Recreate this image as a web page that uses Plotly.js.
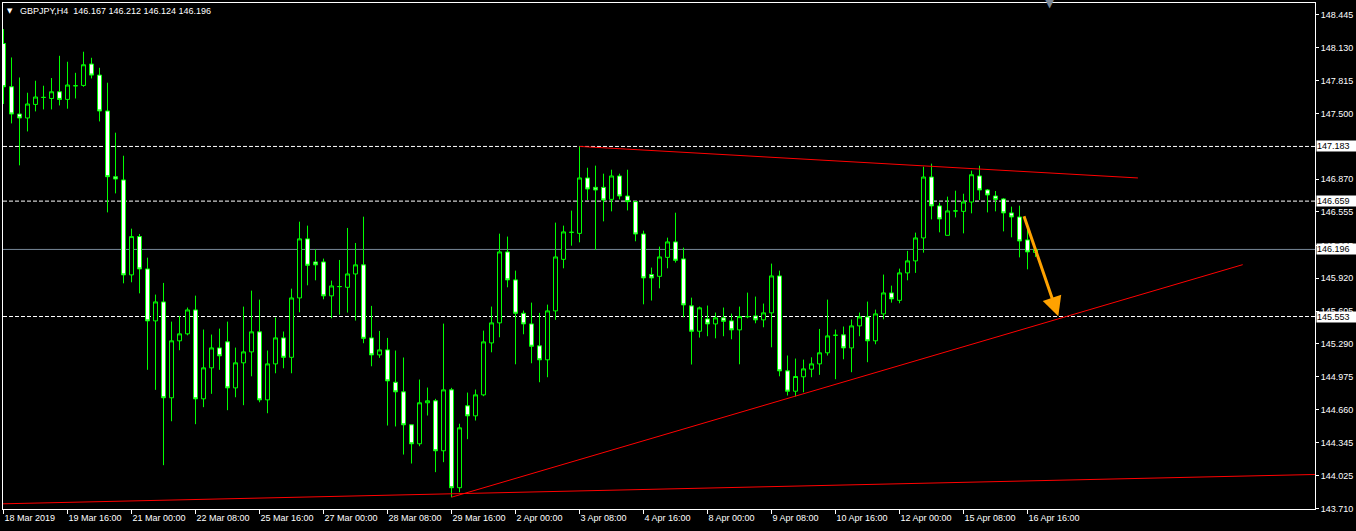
<!DOCTYPE html>
<html>
<head>
<meta charset="utf-8">
<script src="https://cdn.plot.ly/plotly-3.0.1.min.js"></script>
<style>
html,body{margin:0;padding:0;background:#000;}
#chart{width:1356px;height:531px;}
</style>
</head>
<body>
<div id="chart"></div>
<script>
// ---------- data ----------
const symbolName = 'GBPJPY,H4';

const openP = [
148.170,147.755,147.494,147.456,147.586,147.653,147.643,147.707,147.634,147.765,
147.768,147.973,147.867,147.523,146.893,146.862,145.952,146.319,146.009,145.511,
145.693,144.774,145.320,145.387,145.616,144.764,145.061,145.252,145.310,144.869,
145.109,145.214,145.406,144.754,145.099,145.348,145.162,145.731,146.297,146.076,
146.076,145.751,145.840,145.833,145.961,146.048,145.348,145.185,145.233,144.923,
144.831,144.515,144.333,144.726,144.745,144.266,144.850,143.912,144.697,144.601,
144.802,145.300,145.492,146.172,145.904,145.584,145.482,145.272,145.138,145.607,
146.101,146.360,146.350,146.881,146.791,146.791,146.676,146.900,146.708,146.654,
146.344,145.955,145.938,146.120,146.268,146.105,145.655,145.412,145.530,145.482,
145.540,145.511,145.425,145.552,145.559,145.521,145.588,145.942,145.032,144.837,
144.975,145.048,145.099,145.205,145.373,145.377,145.252,145.463,145.549,145.320,
145.578,145.779,145.708,145.971,146.086,146.306,146.890,146.613,146.331,146.565,
146.561,146.651,146.900,146.766,146.708,146.680,146.546,146.507,146.287,146.167];

const highP = [
148.308,148.036,147.844,147.698,147.813,147.765,147.839,148.052,147.995,147.889,
148.091,148.033,147.937,147.794,147.315,147.094,146.395,146.344,146.117,145.763,
145.875,145.504,145.559,145.639,145.753,145.428,145.380,145.437,145.504,145.255,
145.648,145.801,145.715,145.227,145.543,145.409,145.820,146.462,146.424,146.197,
146.108,145.897,146.095,146.402,146.258,146.510,145.655,145.415,145.348,145.227,
145.160,144.515,144.949,144.872,144.764,145.485,144.869,144.525,144.824,144.853,
145.418,145.648,146.347,146.319,145.993,145.610,145.686,145.588,145.667,146.453,
146.424,146.568,147.183,146.979,146.999,146.922,146.960,146.922,146.960,146.654,
146.376,146.022,146.223,146.309,146.548,146.213,145.734,145.648,145.658,145.591,
145.639,145.581,145.648,145.782,145.744,145.677,146.060,145.993,145.179,145.150,
145.140,145.162,145.434,145.715,145.428,145.457,145.524,145.591,145.696,145.619,
145.955,145.849,146.012,146.182,146.357,146.989,147.018,146.644,146.702,146.759,
146.730,146.951,146.999,146.775,146.756,146.689,146.606,146.616,146.402,146.212];

const lowP = [
147.590,147.404,147.002,147.327,147.519,147.538,147.538,147.576,147.545,147.643,
147.755,147.835,147.423,146.551,146.733,145.871,145.881,145.775,145.042,144.850,
144.128,144.549,145.230,145.373,144.521,144.684,144.812,145.042,144.655,144.779,
144.703,144.980,144.731,144.626,145.009,145.057,145.009,145.593,145.852,145.900,
145.718,145.536,145.571,145.591,145.514,145.297,145.076,145.157,144.508,144.499,
144.230,144.144,144.310,144.604,144.061,144.157,143.821,143.869,144.377,144.556,
144.789,145.210,145.354,145.833,145.095,145.383,145.105,144.923,144.971,145.521,
146.015,146.232,146.264,146.670,146.191,146.465,146.561,146.676,146.570,146.274,
145.670,145.706,145.823,146.015,146.070,145.546,145.093,145.351,145.364,145.344,
145.364,145.335,145.095,145.536,145.488,145.450,145.258,144.980,144.796,144.786,
144.827,144.971,144.994,145.179,144.952,145.143,145.019,145.364,145.115,145.287,
145.526,145.686,145.680,145.900,145.971,146.165,146.484,146.360,146.331,146.503,
146.350,146.542,146.670,146.551,146.561,146.369,146.312,146.120,146.005,146.124];

const closeP = [
147.755,147.494,147.456,147.590,147.657,147.653,147.707,147.634,147.772,147.765,
147.966,147.867,147.523,146.893,146.871,145.952,146.319,146.009,145.511,145.693,
144.774,145.320,145.387,145.616,144.764,145.061,145.252,145.176,144.869,145.109,
145.214,145.406,144.754,145.099,145.348,145.162,145.731,146.297,146.044,146.048,
145.751,145.846,145.840,145.961,146.048,145.344,145.185,145.233,144.936,144.831,
144.515,144.333,144.726,144.745,144.266,144.850,143.912,144.486,144.601,144.802,
145.310,145.492,146.172,145.904,145.584,145.482,145.268,145.138,145.607,146.124,
146.364,146.360,146.881,146.775,146.766,146.670,146.900,146.708,146.654,146.344,
145.923,145.923,146.124,146.268,146.092,145.664,145.412,145.636,145.482,145.540,
145.507,145.425,145.552,145.552,145.521,145.588,145.942,145.032,144.837,144.978,
145.051,145.099,145.205,145.367,145.373,145.252,145.463,145.549,145.320,145.578,
145.779,145.722,145.971,146.086,146.306,146.890,146.613,146.488,146.565,146.565,
146.651,146.912,146.766,146.718,146.676,146.546,146.507,146.277,146.172,146.196];

// time-axis labels (every 8th H4 bar)
const tickBars = [0,8,16,24,32,40,48,56,64,72,80,88,96,104,112,120,128];
const tickLabels = ['18 Mar 2019','19 Mar 16:00','21 Mar 00:00','22 Mar 08:00','25 Mar 16:00',
  '27 Mar 00:00','28 Mar 08:00','29 Mar 16:00','2 Apr 00:00','3 Apr 08:00','4 Apr 16:00',
  '8 Apr 00:00','9 Apr 08:00','10 Apr 16:00','12 Apr 00:00','15 Apr 08:00','16 Apr 16:00'];

// price scale labels
const priceTicks = [148.445,148.130,147.815,147.500,146.870,146.555,146.235,145.920,145.605,
  145.290,144.975,144.660,144.345,144.025,143.710];

// horizontal levels and current bid
const levelPrices = [147.183, 146.659, 145.553];
const bidPrice = 146.196;

// drawn trend lines (bar index, price)
const upperTrendBars = [72, 141.8];
const upperTrendPrices = [147.183, 146.881];
const risingTrendBars = [56, 154.9];
const risingTrendPrices = [143.821, 146.050];
const baseTrendBars = [-0.5, 164];
const baseTrendPrices = [143.757, 144.039];
// projected move arrow (tail -> tip)
const arrowBars = [127.5, 131.85];
const arrowPrices = [146.529, 145.555];

// ---------- chart ----------
const FONT = 'Liberation Sans, Arial, sans-serif';
const bars = openP.map((_, i) => i);
const last = openP.length - 1;

const trace = {
  type: 'candlestick',
  x: bars, open: openP, high: highP, low: lowP, close: closeP,
  increasing: {line: {color: '#00ff00', width: 1}, fillcolor: '#000000'},
  decreasing: {line: {color: '#00ff00', width: 1}, fillcolor: '#ffffff'},
  whiskerwidth: 0,
  hoverinfo: 'skip',
  showlegend: false
};

const shapes = [];
levelPrices.forEach(p => shapes.push({
  type: 'line', xref: 'paper', x0: 0, x1: 1, yref: 'y', y0: p, y1: p,
  line: {color: '#ffffff', width: 1, dash: '4px,2px'}, layer: 'below'
}));
shapes.push({type: 'line', xref: 'paper', x0: 0, x1: 1, yref: 'y', y0: bidPrice, y1: bidPrice,
  line: {color: '#778899', width: 1}, layer: 'below'});
[[upperTrendBars, upperTrendPrices], [risingTrendBars, risingTrendPrices], [baseTrendBars, baseTrendPrices]]
  .forEach(([bx, py]) => shapes.push({
    type: 'line', xref: 'x', yref: 'y', x0: bx[0], x1: bx[1], y0: py[0], y1: py[1],
    line: {color: '#ff0000', width: 1}, layer: 'above'
  }));

const annotations = [];
levelPrices.concat([bidPrice]).forEach(p => annotations.push({
  xref: 'paper', x: 1, xanchor: 'left', xshift: 1, yref: 'y', y: p, yanchor: 'middle',
  text: p.toFixed(3), showarrow: false, bgcolor: '#ffffff', borderpad: 0,
  width: 39, align: 'left', font: {family: FONT, size: 9, color: '#000000'}
}));
annotations.push({
  xref: 'paper', x: 0, xanchor: 'left', xshift: 15, yref: 'paper', y: 1, yanchor: 'top', yshift: -1,
  text: symbolName + '&nbsp;&nbsp;' + [openP[last], highP[last], lowP[last], closeP[last]].map(v => v.toFixed(3)).join(' '),
  showarrow: false, font: {family: FONT, size: 9, color: '#ffffff'}
});
annotations.push({
  xref: 'paper', x: 0, xanchor: 'left', xshift: 2, yref: 'paper', y: 1, yanchor: 'top', yshift: -2,
  text: '▼', showarrow: false, font: {family: 'DejaVu Sans', size: 7, color: '#ffffff'}
});
annotations.push({
  xref: 'paper', x: 0.798, xanchor: 'center', yref: 'paper', y: 1, yanchor: 'middle', yshift: 0,
  text: '▼', showarrow: false, font: {family: 'DejaVu Sans', size: 12, color: '#7b8795'}
});
annotations.push({
  xref: 'x', yref: 'y', axref: 'x', ayref: 'y',
  x: arrowBars[1], y: arrowPrices[1], ax: arrowBars[0], ay: arrowPrices[0],
  text: '', showarrow: true, arrowhead: 2, arrowsize: 1.3, arrowwidth: 3, arrowcolor: '#ffa200'
});

const layout = {
  width: 1356, height: 531,
  paper_bgcolor: '#000000', plot_bgcolor: '#000000',
  margin: {l: 3, r: 41, t: 3, b: 22, pad: 0},
  boxgap: 0.5, boxgroupgap: 0,
  xaxis: {
    range: [-0.0625, 163.9375], rangeslider: {visible: false},
    tickmode: 'array', tickvals: tickBars, ticktext: tickLabels,
    ticks: 'outside', ticklen: 4, tickcolor: '#ffffff', tickwidth: 1,
    ticklabelposition: 'outside right',
    tickfont: {family: FONT, size: 9, color: '#ffffff'},
    showgrid: false, zeroline: false,
    showline: true, mirror: true, linecolor: '#ffffff', linewidth: 1,
    fixedrange: true
  },
  yaxis: {
    side: 'right', range: [143.708, 148.558],
    tickmode: 'array', tickvals: priceTicks, ticktext: priceTicks.map(v => v.toFixed(3)),
    ticks: 'outside', ticklen: 3, tickcolor: '#ffffff', tickwidth: 1,
    tickfont: {family: FONT, size: 9, color: '#ffffff'},
    showgrid: false, zeroline: false,
    showline: true, mirror: true, linecolor: '#ffffff', linewidth: 1,
    fixedrange: true
  },
  shapes: shapes,
  annotations: annotations,
  showlegend: false
};

Plotly.newPlot('chart', [trace], layout, {displayModeBar: false, staticPlot: true});
</script>
</body>
</html>
